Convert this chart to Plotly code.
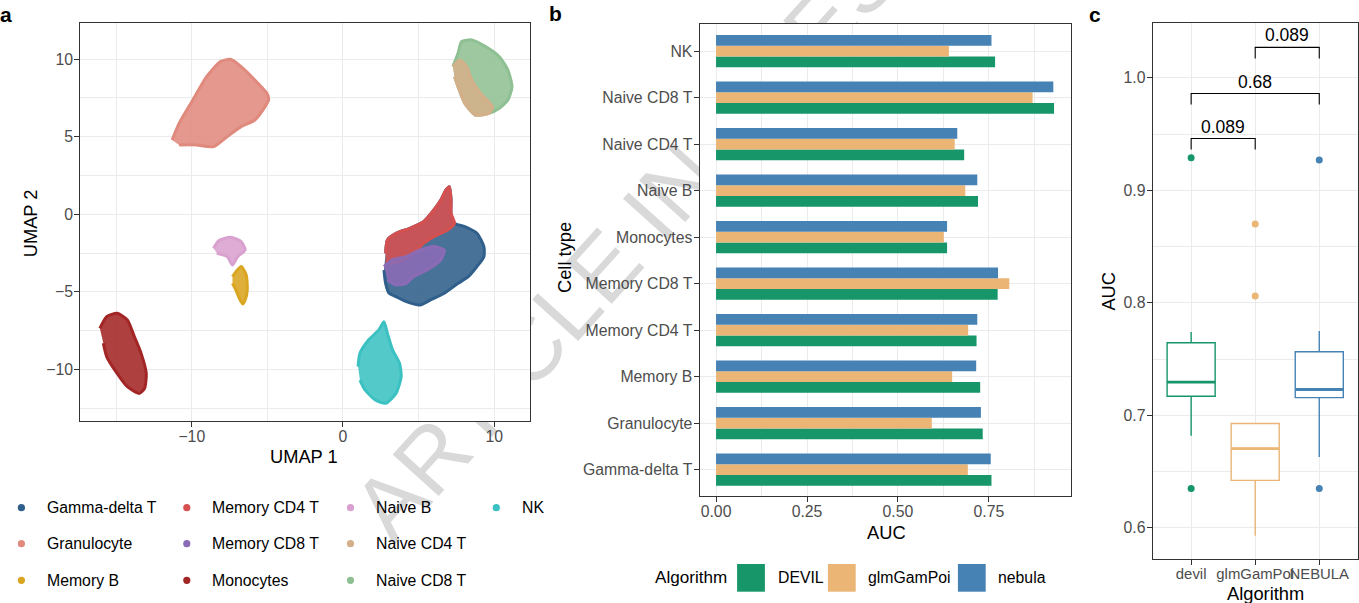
import numpy as np
import plotly.graph_objects as go

W, H = 1359, 603
FONT = "Liberation Sans"
TICK_GREY = "#4D4D4D"
FRAME = "#333333"
GRID = "#EBEBEB"

# ---------------- panel a: UMAP clusters (outline of each cell population) ----------------
cell_types = ["Gamma-delta T", "Granulocyte", "Memory B", "Memory CD4 T", "Memory CD8 T",
              "Monocytes", "Naive B", "Naive CD4 T", "Naive CD8 T", "NK"]
cell_colors = ["#2F5F8A", "#E08A7E", "#DAA520", "#D75050", "#8B6BB5",
               "#A32626", "#D9A1CF", "#D4B08A", "#8FC093", "#3CC1C3"]

granulocyte_x = [-11.30, -10.84, -9.93, -9.02, -8.11, -7.43, -6.74, -5.83, -5.03, -4.92, -5.15, -5.83, -6.74, -7.65, -8.56, -9.70, -10.84]
granulocyte_y = [4.79, 5.86, 7.37, 8.87, 9.84, 9.99, 9.52, 8.66, 7.80, 7.37, 6.94, 6.08, 5.65, 5.01, 4.36, 4.47, 4.47]

nk_x = [1.00, 1.12, 1.69, 2.37, 2.71, 2.94, 3.28, 3.74, 3.85, 3.51, 2.82, 2.14, 1.46, 1.12]
nk_y = [-9.82, -8.96, -8.10, -7.45, -6.92, -7.67, -8.74, -9.60, -10.46, -11.54, -12.18, -11.97, -11.32, -10.68]

monocytes_x = [-16.08, -15.63, -14.94, -14.26, -13.80, -13.35, -13.01, -13.12, -13.46, -14.26, -14.94, -15.63, -15.85]
monocytes_y = [-7.35, -6.60, -6.38, -6.81, -7.88, -8.96, -10.25, -11.21, -11.54, -11.11, -10.25, -9.17, -8.31]

naive_b_x = [-8.56, -8.22, -7.43, -6.74, -6.47, -6.97, -7.31, -7.65, -8.34]
naive_b_y = [-2.19, -1.70, -1.48, -1.76, -2.30, -2.73, -3.27, -2.73, -2.51]

memory_b_x = [-7.31, -6.74, -6.40, -6.33, -6.47, -6.63, -6.86, -7.08, -7.31]
memory_b_y = [-4.02, -3.37, -3.91, -4.88, -5.52, -5.78, -5.41, -4.88, -4.45]

naive_cd8_x = [7.27, 7.61, 7.84, 8.52, 9.43, 10.34, 10.91, 11.18, 10.91, 10.34, 9.66, 8.75, 8.06, 7.61, 7.38]
naive_cd8_y = [9.52, 10.38, 11.13, 11.24, 10.81, 10.16, 9.30, 8.23, 7.37, 6.83, 6.51, 6.40, 7.15, 8.23, 8.87]

naive_cd4_x = [7.27, 7.72, 8.18, 8.52, 9.09, 9.89, 9.66, 8.75, 8.06, 7.61, 7.38]
naive_cd4_y = [9.52, 9.95, 9.52, 8.66, 7.80, 6.94, 6.51, 6.40, 7.15, 8.23, 8.87]

gamma_delta_x = [2.82, 2.94, 3.51, 4.42, 5.33, 6.01, 6.47, 6.81, 7.04, 7.15, 7.15, 7.38, 8.06, 8.86, 9.32, 9.32,
                 8.86, 8.29, 7.61, 6.70, 5.79, 5.10, 4.19, 3.51, 3.05, 2.82, 2.71]
gamma_delta_y = [-2.51, -1.65, -1.22, -0.90, -0.47, 0.28, 0.92, 1.57, 1.78, 0.92, 0.06, -0.58, -0.79, -1.22, -2.08, -2.73,
                 -3.37, -4.02, -4.45, -5.09, -5.52, -5.84, -5.63, -5.31, -5.09, -4.45, -3.59]

memory_cd4_x = [2.82, 2.94, 3.51, 4.42, 5.33, 6.01, 6.47, 6.81, 7.04, 7.15, 7.15, 7.38, 6.92, 6.01, 5.33, 4.65, 3.96, 3.28, 2.82]
memory_cd4_y = [-2.51, -1.65, -1.22, -0.90, -0.47, 0.28, 0.92, 1.57, 1.78, 0.92, 0.06, -0.58, -1.01, -1.44, -1.87, -2.51, -2.94, -3.16, -3.16]

memory_cd8_x = [2.71, 3.28, 4.19, 5.10, 6.01, 6.70, 6.47, 5.56, 4.65, 4.19, 3.51, 2.94]
memory_cd8_y = [-3.37, -2.94, -2.73, -2.30, -2.08, -2.30, -2.94, -3.59, -4.02, -4.45, -4.55, -4.23]

cluster_outlines = {
    "Granulocyte": (granulocyte_x, granulocyte_y),
    "Monocytes": (monocytes_x, monocytes_y),
    "NK": (nk_x, nk_y),
    "Naive B": (naive_b_x, naive_b_y),
    "Memory B": (memory_b_x, memory_b_y),
    "Naive CD8 T": (naive_cd8_x, naive_cd8_y),
    "Naive CD4 T": (naive_cd4_x, naive_cd4_y),
    "Gamma-delta T": (gamma_delta_x, gamma_delta_y),
    "Memory CD4 T": (memory_cd4_x, memory_cd4_y),
    "Memory CD8 T": (memory_cd8_x, memory_cd8_y),
}

# ---------------- panel b: AUC per cell type and algorithm ----------------
bar_algorithms = ["DEVIL", "glmGamPoi", "nebula"]
algo_colors = ["#169669", "#EBB576", "#4682B4"]
auc_devil = [0.757, 0.733, 0.726, 0.716, 0.774, 0.635, 0.720, 0.682, 0.929, 0.767]
auc_glmgampoi = [0.692, 0.593, 0.649, 0.693, 0.806, 0.626, 0.685, 0.656, 0.870, 0.640]
auc_nebula = [0.755, 0.728, 0.715, 0.718, 0.775, 0.635, 0.718, 0.663, 0.927, 0.757]

# ---------------- panel c: distribution of AUC per algorithm ----------------
box_labels = ["devil", "glmGamPoi", "NEBULA"]
bracket_pairs = [(0, 1), (0, 2), (1, 2)]
bracket_pvalues = ["0.089", "0.68", "0.089"]
bracket_heights = [0.946, 0.986, 1.027]
bracket_tip = 0.0098


def px(x):
    return x / W


def py(y):
    return 1 - y / H


def note(text, x, y, size, color="black", angle=0, xanchor="center", yanchor="middle"):
    return dict(x=px(x), y=py(y), xref="paper", yref="paper", text=text, showarrow=False,
                textangle=angle, xanchor=xanchor, yanchor=yanchor, font=dict(size=size, color=color))


fig = go.Figure()

# layer at the very bottom: the journal stamp
fig.add_trace(go.Scatter(x=[None], y=[None], xaxis="x", yaxis="y", showlegend=False, hoverinfo="skip"))

# panel a
color_of = dict(zip(cell_types, cell_colors))
for name, (cx, cy) in cluster_outlines.items():
    col = color_of[name]
    r, g, b = int(col[1:3], 16), int(col[3:5], 16), int(col[5:7], 16)
    fig.add_trace(go.Scatter(
        x=cx, y=cy, mode="lines", fill="toself", name=name,
        fillcolor=f"rgba({r},{g},{b},0.88)",
        line=dict(color=col, width=3, shape="spline", smoothing=0.6),
        xaxis="x2", yaxis="y2", showlegend=False, hoverinfo="name"))

# panel b
for algo, vals, col in zip(bar_algorithms, [auc_devil, auc_glmgampoi, auc_nebula], algo_colors):
    fig.add_trace(go.Bar(
        y=cell_types, x=vals, orientation="h", name=algo, marker=dict(color=col, line=dict(width=0)),
        xaxis="x3", yaxis="y3", showlegend=False))

# panel c: Tukey boxplots (type-7 quartiles, 1.5 IQR whiskers)
shapes = []
annotations = []
for i, (lab, vals, col) in enumerate(zip(box_labels, [auc_devil, auc_glmgampoi, auc_nebula], algo_colors)):
    v = np.sort(np.asarray(vals))
    q1, med, q3 = np.percentile(v, [25, 50, 75])
    iqr = q3 - q1
    lo_f, hi_f = q1 - 1.5 * iqr, q3 + 1.5 * iqr
    inside = v[(v >= lo_f) & (v <= hi_f)]
    outl = v[(v < lo_f) | (v > hi_f)]
    fig.add_trace(go.Box(
        x=[lab], q1=[q1], median=[med], q3=[q3], lowerfence=[inside.min()], upperfence=[inside.max()],
        width=0.75, whiskerwidth=0, fillcolor="white", line=dict(color=col, width=1.4),
        boxpoints=False, xaxis="x4", yaxis="y4", showlegend=False, name=lab))
    fig.add_trace(go.Scatter(
        x=[lab] * len(outl), y=outl, mode="markers", marker=dict(color=col, size=7, line=dict(width=0)),
        xaxis="x4", yaxis="y4", showlegend=False, name=lab))
    shapes.append(dict(type="line", xref="x4", yref="y4", x0=i - 0.375, x1=i + 0.375, y0=med, y1=med,
                       line=dict(color=col, width=2.8), layer="above"))

for (a, b), p, h in zip(bracket_pairs, bracket_pvalues, bracket_heights):
    shapes.append(dict(type="path", xref="x4", yref="y4",
                       path=f"M {a},{h - bracket_tip} L {a},{h} L {b},{h} L {b},{h - bracket_tip}",
                       line=dict(color="black", width=1.1)))
    annotations.append(dict(x=(a + b) / 2, y=h, xref="x4", yref="y4", text=p, showarrow=False,
                            xanchor="center", yanchor="bottom", font=dict(size=17.5, color="black")))

# panel a legend (3 rows, column-major)
leg_dot_x = [21.4, 186.8, 350.5, 496.3]
leg_row_y = [507.7, 543.7, 580.3]
for i, (name, col) in enumerate(zip(cell_types, cell_colors)):
    cx, cy = leg_dot_x[i // 3], leg_row_y[i % 3]
    shapes.append(dict(type="circle", xref="paper", yref="paper", x0=px(cx - 3.6), x1=px(cx + 3.6),
                       y0=py(cy + 3.6), y1=py(cy - 3.6), fillcolor=col, line=dict(width=0), layer="above"))
    annotations.append(note(name, cx + 23.5, cy, 15.8, xanchor="left"))

# panel b legend
annotations.append(note("Algorithm", 653.0, 577.7, 17.1, xanchor="left"))
key_x = [737.1, 827.9, 957.9]
for kx, algo, col in zip(key_x, bar_algorithms, algo_colors):
    shapes.append(dict(type="rect", xref="paper", yref="paper", x0=px(kx), x1=px(kx + 27.8),
                       y0=py(591.7), y1=py(564.0), fillcolor=col, line=dict(width=0), layer="above"))
    annotations.append(note(algo, kx + 38.5, 577.7, 15.8, xanchor="left"))

# panel tags and axis titles
for tag, tx, ty in [("a", 5.5, 14), ("b", 555, 13.5), ("c", 1094.5, 15)]:
    annotations.append(note(f"<b>{tag}</b>", tx, ty, 21))
for txt, tx, ty, ang in [("UMAP 1", 303.9, 456.7, 0), ("UMAP 2", 30, 223.3, -90),
                         ("AUC", 886.4, 532.1, 0), ("Cell type", 564, 258, -90),
                         ("AUC", 1108.3, 291.3, -90), ("Algorithm", 1265.5, 593, 0)]:
    annotations.append(note(txt, tx, ty, 18.3, angle=ang))

tickfont = dict(family=FONT, size=15.8, color=TICK_GREY)
frame = dict(showline=True, mirror=True, linecolor=FRAME, linewidth=1.1, ticks="outside", ticklen=5,
             tickwidth=1.1, tickcolor=FRAME, tickfont=tickfont, zeroline=False, automargin=False,
             tickangle=0, showgrid=True, gridcolor=GRID, gridwidth=1.1)
xframe = dict(frame, ticklabelstandoff=-4)
yframe = dict(frame, ticklabelstandoff=-2)
xframe_c = dict(xframe, tickfont=dict(family=FONT, size=14.9, color=TICK_GREY))
minor = lambda d: dict(dtick=d, tick0=0, showgrid=True, gridcolor=GRID, gridwidth=0.55)

fig.update_layout(
    template="none",
    width=W, height=H, margin=dict(l=0, r=0, t=0, b=0, autoexpand=False),
    paper_bgcolor="white", plot_bgcolor="white",
    font=dict(family=FONT, color="black"),
    showlegend=False, barmode="group", bargap=0.31, bargroupgap=0,
    xaxis=dict(domain=[0, 1], range=[0, 1], anchor="free", position=0.04, side="top", automargin=False,
               showgrid=False, zeroline=False, showline=False, ticks="",
               tickmode="array", tickvals=[0.265], ticktext=["ARTICLE IN PRESS"], tickangle=-48,
               tickfont=dict(family=FONT, size=90, color="#D9D9D9"), fixedrange=True),
    yaxis=dict(domain=[0, 1], range=[0, 1], visible=False, fixedrange=True, automargin=False),
    xaxis2=dict(domain=[px(80.2), px(530.3)], range=[-17.38, 12.39], anchor="y2",
                tick0=0, dtick=10, minor=minor(5), **xframe),
    yaxis2=dict(domain=[py(421), py(23.3)], range=[-13.32, 12.31], anchor="x2",
                tick0=0, dtick=5, minor=minor(2.5), **yframe),
    xaxis3=dict(domain=[px(699.6), px(1071.4)], range=[-0.0452, 0.9767], anchor="y3",
                tick0=0, dtick=0.25, tickformat=".2f", minor=minor(0.125), **xframe),
    yaxis3=dict(domain=[py(496.4), py(23.9)], range=[-0.576, 9.585], anchor="x3",
                type="category", categoryorder="array", categoryarray=cell_types, **yframe),
    xaxis4=dict(domain=[px(1152.7), px(1357.7)], range=[-0.6, 2.6], anchor="y4",
                type="category", categoryorder="array", categoryarray=box_labels, **xframe_c),
    yaxis4=dict(domain=[py(559.3), py(23.3)], range=[0.5721, 1.0484], anchor="x4",
                tick0=0, dtick=0.1, tickformat=".1f", minor=minor(0.05), **yframe),
    shapes=shapes, annotations=annotations,
)

fig.write_html("out.html")
